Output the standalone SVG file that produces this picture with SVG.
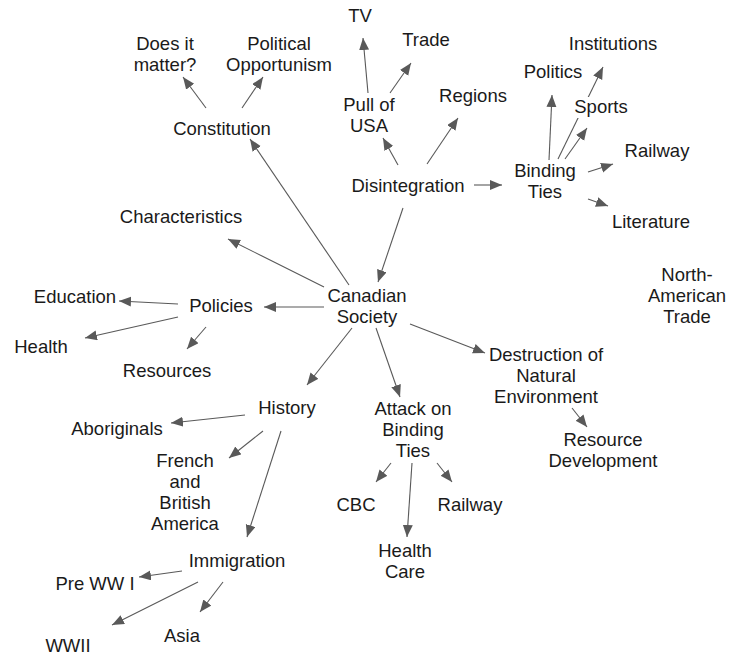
<svg xmlns="http://www.w3.org/2000/svg" width="729" height="656" viewBox="0 0 729 656">
<style>
text{font-family:"Liberation Sans",Arial,sans-serif;font-size:18.5px;fill:#1a1a1a;text-anchor:middle}
.c line{stroke:#595959;stroke-width:1.1;marker-end:url(#ah)}
.c line.n{marker-end:none}
</style>
<defs>
<marker id="ah" markerUnits="userSpaceOnUse" markerWidth="13" markerHeight="11" refX="12" refY="5" orient="auto"><path d="M0,0 L12,5 L0,10 z" fill="#595959"/></marker>
</defs>
<rect width="729" height="656" fill="#fff"/>
<g class="c" id="connectors">
<line x1="206" y1="108" x2="183" y2="77"/>
<line x1="242" y1="108" x2="263" y2="77"/>
<line x1="368" y1="93" x2="363" y2="38"/>
<line x1="390" y1="93" x2="411" y2="63"/>
<line x1="398" y1="165" x2="383" y2="138"/>
<line x1="427" y1="164" x2="458" y2="118"/>
<line x1="474" y1="185" x2="502" y2="185"/>
<line x1="549" y1="160" x2="552" y2="95"/>
<line x1="558" y1="159" x2="603" y2="67"/>
<line x1="565" y1="159" x2="587" y2="128"/>
<line x1="588" y1="172" x2="613" y2="164"/>
<line x1="588" y1="199" x2="608" y2="206"/>
<line x1="403" y1="208" x2="378" y2="282"/>
<line x1="349" y1="285" x2="250" y2="139"/>
<line x1="324" y1="287" x2="228" y2="239"/>
<line x1="324" y1="307" x2="264" y2="307"/>
<line x1="178" y1="304" x2="119" y2="301"/>
<line x1="178" y1="317" x2="85" y2="338"/>
<line x1="206" y1="327" x2="187" y2="349"/>
<line x1="352" y1="328" x2="307" y2="385"/>
<line x1="376" y1="328" x2="400" y2="397"/>
<line x1="410" y1="324" x2="485" y2="353"/>
<line x1="572" y1="408" x2="587" y2="427"/>
<line x1="391" y1="463" x2="376" y2="482"/>
<line x1="437" y1="463" x2="452" y2="482"/>
<line x1="412" y1="463" x2="407" y2="537"/>
<line x1="245" y1="415" x2="171" y2="423"/>
<line x1="263" y1="431" x2="229" y2="458"/>
<line x1="281" y1="431" x2="247" y2="537"/>
<line x1="182" y1="571" x2="139" y2="577"/>
<line x1="198" y1="582" x2="112" y2="625"/>
<line x1="223" y1="582" x2="200" y2="612"/>
</g>
<g id="tv"><text x="360" y="22">TV</text></g>
<g id="trade"><text x="426" y="46">Trade</text></g>
<g id="pull"><text x="369" y="111">Pull of<tspan x="369" dy="21">USA</tspan></text></g>
<g id="regions"><text x="473" y="102">Regions</text></g>
<g id="institutions"><text x="613" y="50">Institutions</text></g>
<g id="politics"><text x="553" y="78">Politics</text></g>
<g id="sports"><rect x="574" y="97" width="56" height="21" fill="#fff"/><text x="601" y="113">Sports</text></g>
<g id="railway1"><text x="657" y="157">Railway</text></g>
<g id="binding"><text x="545" y="177">Binding<tspan x="545" dy="21">Ties</tspan></text></g>
<g id="disintegration"><text x="408" y="192">Disintegration</text></g>
<g id="literature"><text x="651" y="228">Literature</text></g>
<g id="doesit"><text x="165" y="50">Does it<tspan x="165" dy="21">matter?</tspan></text></g>
<g id="political"><text x="279" y="50">Political<tspan x="279" dy="21">Opportunism</tspan></text></g>
<g id="constitution"><text x="222" y="135">Constitution</text></g>
<g id="characteristics"><text x="181" y="223">Characteristics</text></g>
<g id="education"><text x="75" y="303">Education</text></g>
<g id="policies"><text x="221" y="312">Policies</text></g>
<g id="health"><text x="41" y="353">Health</text></g>
<g id="resources"><text x="167" y="377">Resources</text></g>
<g id="canadian"><text x="367" y="302">Canadian<tspan x="367" dy="21">Society</tspan></text></g>
<g id="northam"><text x="687" y="281">North-<tspan x="687" dy="21">American</tspan><tspan x="687" dy="21">Trade</tspan></text></g>
<g id="destruction"><text x="546" y="361">Destruction of<tspan x="546" dy="21">Natural</tspan><tspan x="546" dy="21">Environment</tspan></text></g>
<g id="resdev"><text x="603" y="446">Resource<tspan x="603" dy="21">Development</tspan></text></g>
<g id="attack"><text x="413" y="415">Attack on<tspan x="413" dy="21">Binding</tspan><tspan x="413" dy="21">Ties</tspan></text></g>
<g id="cbc"><text x="356" y="511">CBC</text></g>
<g id="railway2"><text x="470" y="511">Railway</text></g>
<g id="healthcare"><text x="405" y="557">Health<tspan x="405" dy="21">Care</tspan></text></g>
<g id="history"><text x="287" y="414">History</text></g>
<g id="aboriginals"><text x="117" y="435">Aboriginals</text></g>
<g id="french"><text x="185" y="467">French<tspan x="185" dy="21">and</tspan><tspan x="185" dy="21">British</tspan><tspan x="185" dy="21">America</tspan></text></g>
<g id="immigration"><text x="237" y="567">Immigration</text></g>
<g id="prewwi"><text x="95" y="590">Pre WW I</text></g>
<g id="asia"><text x="182" y="642">Asia</text></g>
<g id="wwii"><text x="68" y="652">WWII</text></g>
</svg>
